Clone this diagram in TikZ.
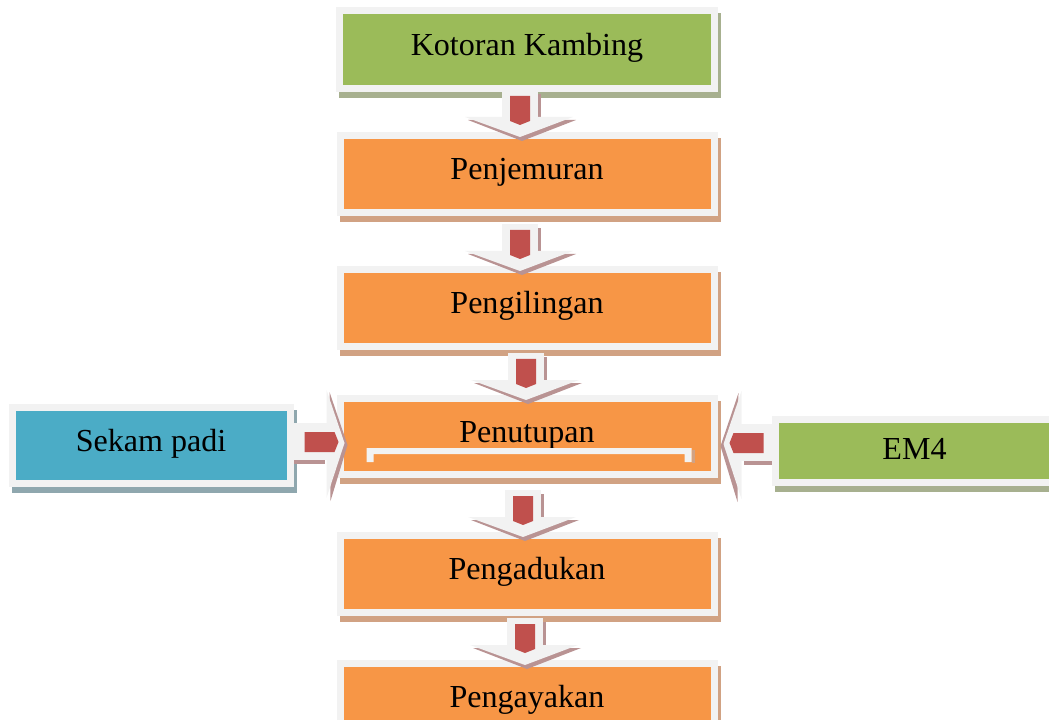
\documentclass[tikz,border=0pt]{standalone}
\usepackage{fontspec}
\setmainfont{Liberation Serif}
\usetikzlibrary{positioning, calc}

\definecolor{boxgreen}{HTML}{9BBB59}
\definecolor{boxorange}{HTML}{F79646}
\definecolor{boxblue}{HTML}{4BACC6}
\definecolor{arrowred}{HTML}{C0504D}
\definecolor{framegray}{HTML}{F2F2F2}
\definecolor{greenshade}{HTML}{A7B08F}
\definecolor{orangeshade}{HTML}{D1A283}
\definecolor{blueshade}{HTML}{8FA7AE}
\definecolor{arrowshade}{HTML}{B99393}

\newlength{\pxu}
\setlength{\pxu}{0.025cm}

\tikzset{
	boxshadow/.style={preaction={draw=#1, fill=#1, line width=7\pxu, transform canvas={shift={(3,6)}}}},
}

\begin{document}
\begin{tikzpicture}[
	x=0.025cm, y=-0.025cm,
	stepbox/.style={rectangle, draw=framegray, line width=7\pxu, inner sep=0pt,
		minimum width=374\pxu, minimum height=77\pxu, fill=boxorange, boxshadow=orangeshade,
		font=\fontsize{22.8}{27}\selectfont, text height=16pt, text depth=8pt},
	inputbox/.style={stepbox, minimum width=278\pxu, minimum height=76\pxu},
	]
	\useasboundingbox (0,0) rectangle (1049,720);
	
	% main column
	\node[stepbox, fill=boxgreen, boxshadow=greenshade, minimum width=375\pxu, minimum height=78\pxu] (kotoran) at (527,49.5) {Kotoran Kambing};
	\node[stepbox, below=40\pxu of kotoran] (penjemuran) {Penjemuran};
	\node[stepbox, below=50\pxu of penjemuran] (pengilingan) {Pengilingan};
	\node[stepbox, minimum height=76\pxu, below=45\pxu of pengilingan] (penutupan) {Penutupan};
	\node[stepbox, below=54\pxu of penutupan] (pengadukan) {Pengadukan};
	\node[stepbox, below=44\pxu of pengadukan] (pengayakan) {Pengayakan};
	
	% side inputs
	\node[inputbox, fill=boxblue, boxshadow=blueshade, left=43\pxu of penutupan, yshift=-9\pxu] (sekam) {Sekam padi};
	\node[inputbox, fill=boxgreen, boxshadow=greenshade, minimum width=279\pxu, minimum height=63\pxu,
		text height=11.5pt, text depth=0pt, right=54\pxu of penutupan, yshift=-14.5\pxu] (em4) {EM4};
	
	% bracket inside Penutupan
	\begin{scope}[shift={(penutupan.center)}]
		\fill[orangeshade] (164.5,13) rectangle (167.5,26);
		\fill[framegray] (-160.5,11.5) -- (164.5,11.5) -- (164.5,25.5) -- (157.5,25.5) -- (157.5,17.5)
			-- (-153.5,17.5) -- (-153.5,25.5) -- (-160.5,25.5) -- cycle;
	\end{scope}
	
	% arrows down the column
	\foreach \a/\b/\cx in {kotoran/penjemuran/520, penjemuran/pengilingan/520, pengilingan/penutupan/526, penutupan/pengadukan/523, pengadukan/pengayakan/525} {
		\begin{scope}[shift={(\cx,0 |- \b.north)}]
			\fill[framegray] (-18,-42) rectangle (18,-12);
			\fill[arrowshade] (18,-38) rectangle (21,-15);
			\fill[arrowshade] (-52,-12) -- (56,-12) -- (2,9) -- cycle;
			\fill[framegray] (-55,-15) -- (53,-15) -- (0,5) -- cycle;
			\fill[arrowred] (-10,-36) -- (10,-36) -- (10,-11) -- (0,-7) -- (-10,-11) -- cycle;
		\end{scope}
	}
	
	% arrows from the side inputs
	\foreach \src/\sanc/\anc/\dx/\dy/\dir in {sekam/east/west/0/6.5/1, em4/west/east/14/7.5/-1} {
		\begin{scope}[shift={($(penutupan.\anc)+(\dx,\dy)$)}, xscale=\dir]
			\fill[framegray] (\src.\sanc |- 0,-20) rectangle (-9,17);
			\fill[arrowshade] (\src.\sanc |- 0,17) rectangle (-12,21);
			\fill[arrowshade] (-7,-51) -- (11,2) -- (-6,58) -- cycle;
			\fill[framegray] (-10,-53) -- (8,0) -- (-10,55) -- cycle;
			\fill[arrowred] (-32,-11) -- (-2,-11) -- (2,-1) -- (-2,9) -- (-32,9) -- cycle;
		\end{scope}
	}
\end{tikzpicture}
\end{document}
